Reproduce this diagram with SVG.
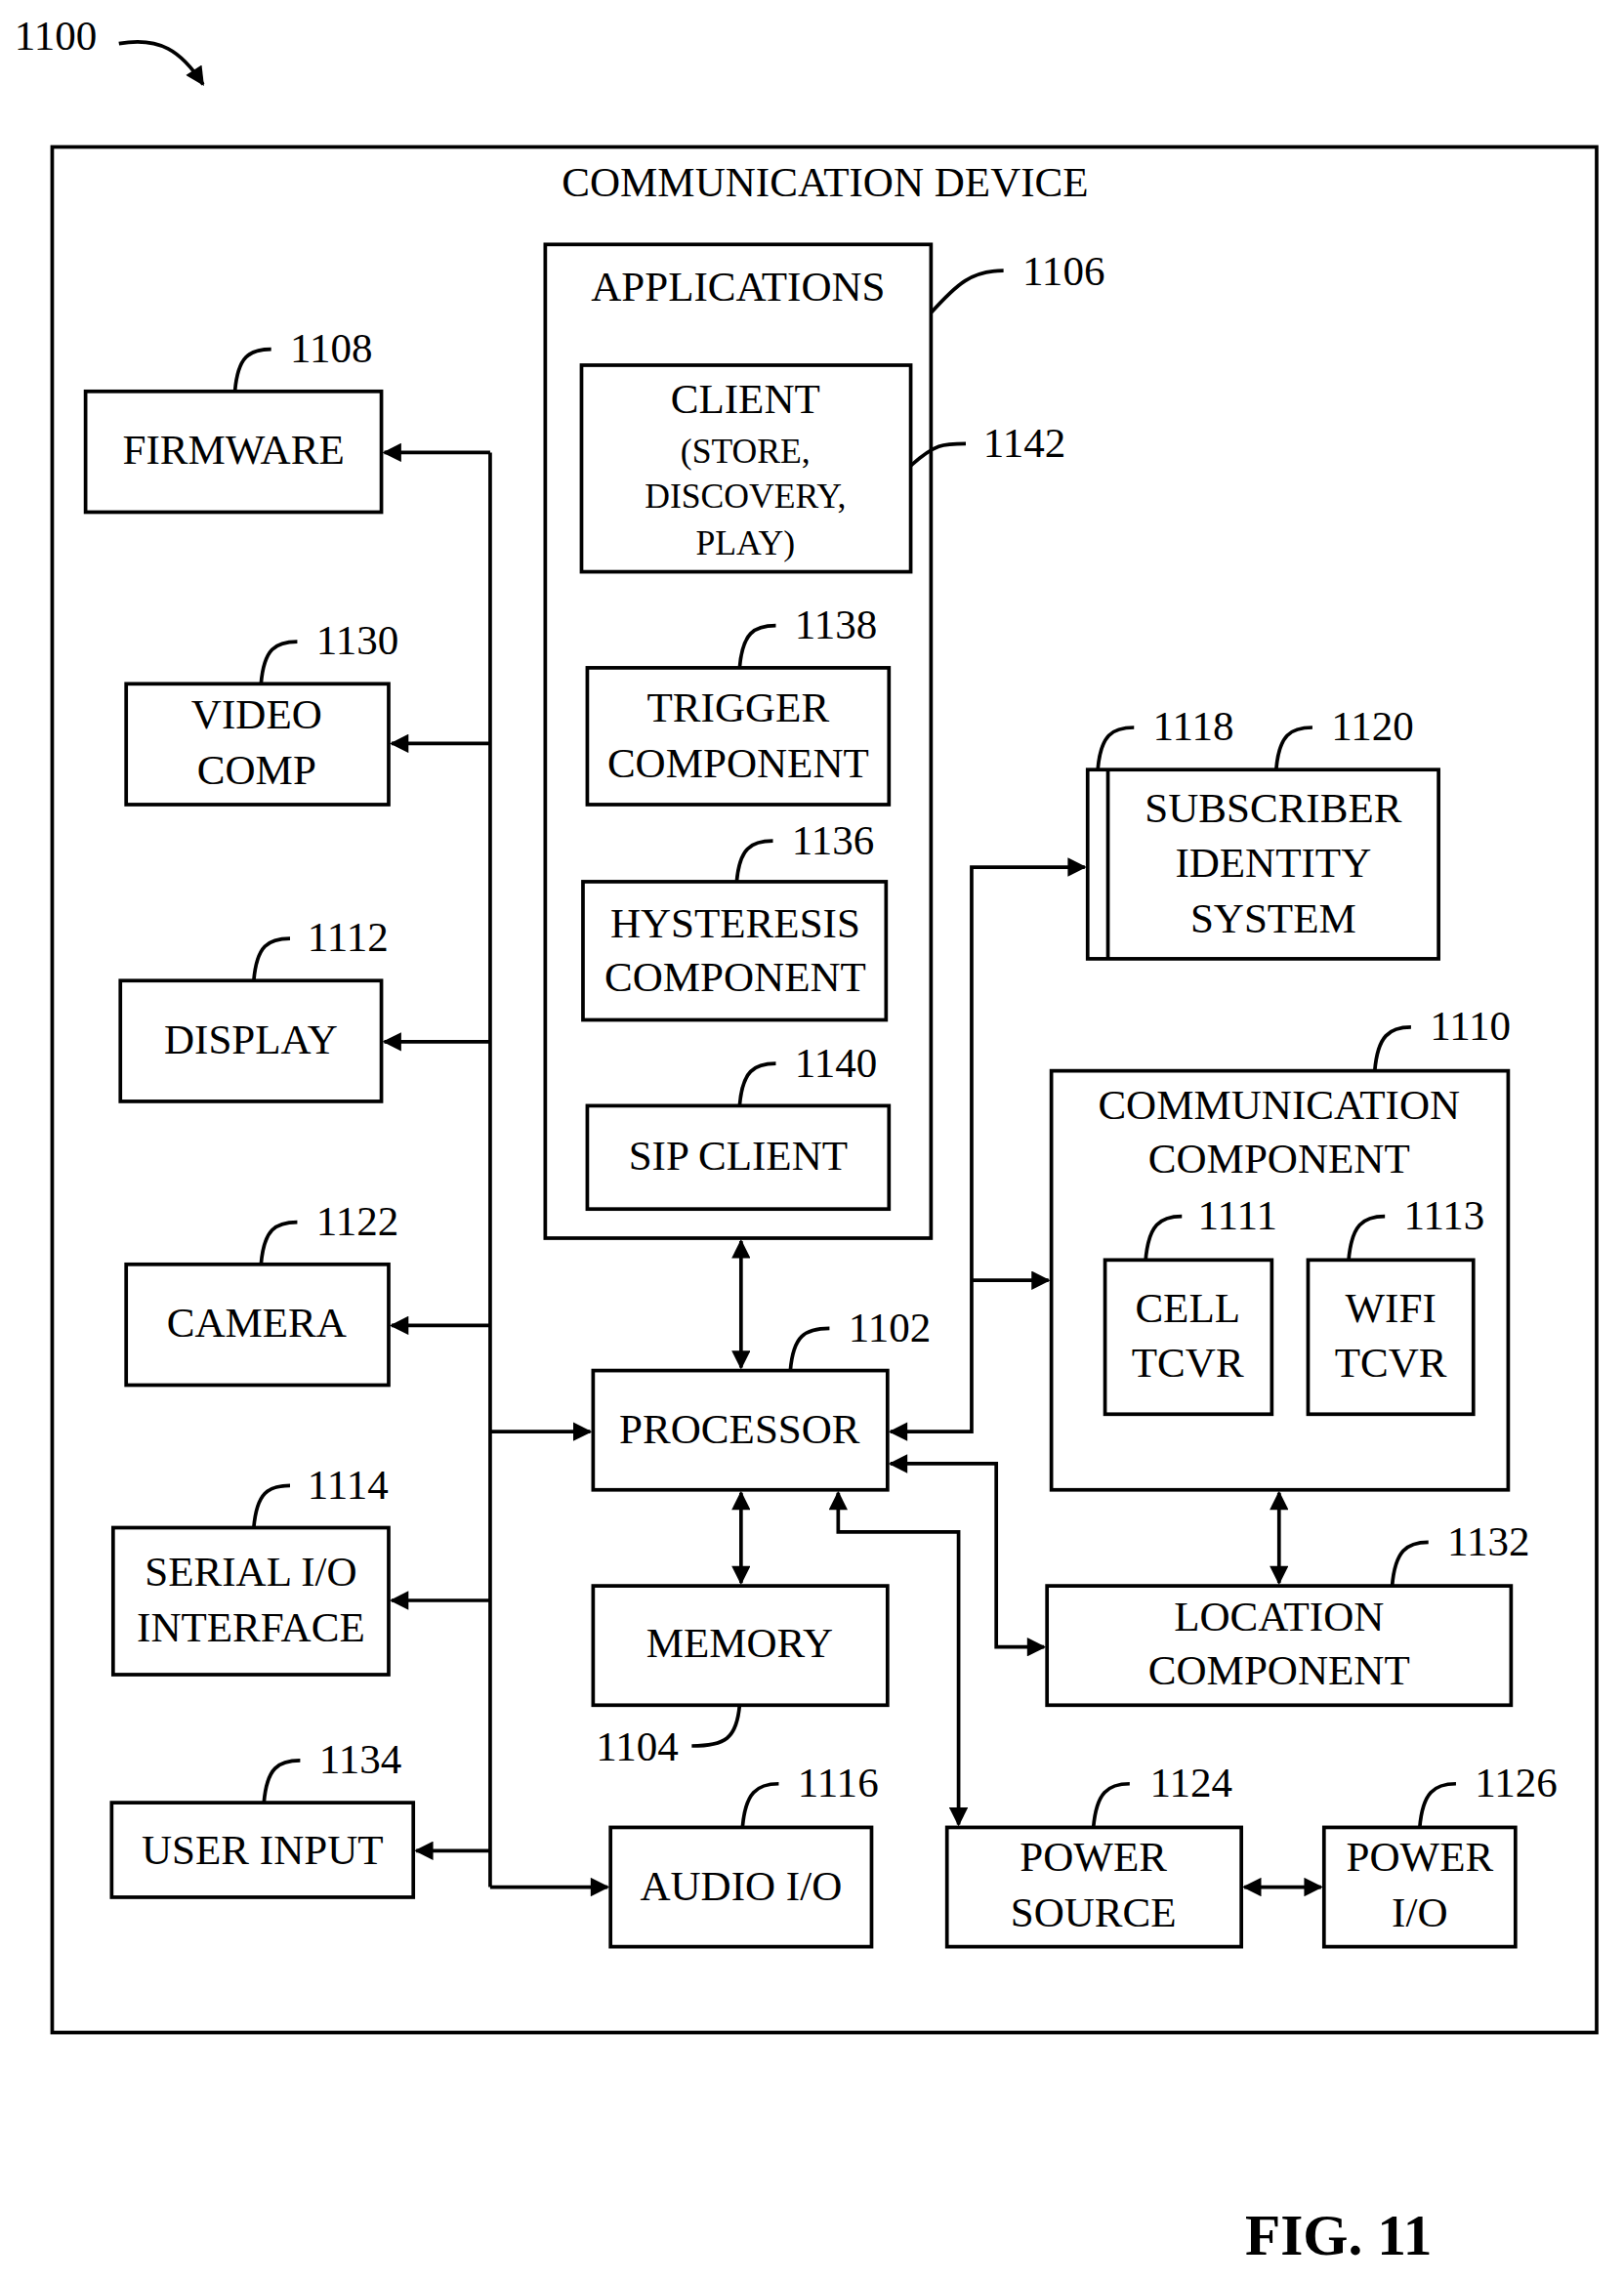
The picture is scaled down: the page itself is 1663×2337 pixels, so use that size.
<svg xmlns="http://www.w3.org/2000/svg" width="1663" height="2337" viewBox="0 0 1663 2337">
<style>
.b{fill:none;stroke:#000;stroke-width:2.5}
.c{fill:none;stroke:#000;stroke-width:2.5}
text{font-family:"Liberation Serif",serif;font-size:29px;text-anchor:middle;fill:#000}
.n{text-anchor:start}
.s{font-size:24px}
</style>
<defs><marker id="a" viewBox="0 0 10 10" refX="9" refY="5" markerWidth="16" markerHeight="13" markerUnits="userSpaceOnUse" orient="auto-start-reverse"><path d="M0,0L10,5L0,10z"/></marker></defs>
<rect width="1663" height="2337" fill="#fff"/>
<g transform="scale(1.485,1.49)">
<g id="labels">
<text class="n" x="10" y="34">1100</text>
<path class="c" d="M82,30 C110,25 125,35 140,58" marker-end="url(#a)"/>
<text x="923" y="1550" style="font-size:40px;font-weight:bold">FIG. 11</text>
</g>
<g id="device"><rect class="b" x="36" y="101" width="1065" height="1296"/><text x="569" y="135">COMMUNICATION DEVICE</text></g>
<g id="apps"><rect class="b" x="376" y="168" width="266" height="683"/><text x="509" y="207">APPLICATIONS</text><path class="c" d="M642,215 C660,195 670,186 692,186"/><text class="n" x="705" y="196">1106</text></g>
<g id="client"><rect class="b" x="401" y="251" width="227" height="142"/><text x="514" y="284">CLIENT</text><text class="s" x="514" y="318">(STORE,</text><text class="s" x="514" y="349">DISCOVERY,</text><text class="s" x="514" y="381">PLAY)</text><path class="c" d="M628,320 C645,305 650,305 666,305"/><text class="n" x="678" y="314">1142</text></g>
<g id="trigger"><rect class="b" x="405" y="459" width="208" height="94"/><text x="509" y="496">TRIGGER</text><text x="509" y="534">COMPONENT</text><path class="c" d="M510,459 C512,435 520,430 535,430"/><text class="n" x="548" y="439">1138</text></g>
<g id="hyst"><rect class="b" x="402" y="606" width="209" height="95"/><text x="507" y="644">HYSTERESIS</text><text x="507" y="681">COMPONENT</text><path class="c" d="M508,606 C510,583 518,578 533,578"/><text class="n" x="546" y="587">1136</text></g>
<g id="sip"><rect class="b" x="405" y="760" width="208" height="71"/><text x="509" y="804">SIP CLIENT</text><path class="c" d="M510,760 C512,736 520,731 535,731"/><text class="n" x="548" y="740">1140</text></g>
<g id="firmware"><rect class="b" x="59" y="269" width="204" height="83"/><text x="161" y="319">FIRMWARE</text><path class="c" d="M162,269 C164,245 172,240 187,240"/><text class="n" x="200" y="249">1108</text></g>
<g id="video"><rect class="b" x="87" y="470" width="181" height="83"/><text x="177" y="501">VIDEO</text><text x="177" y="539">COMP</text><path class="c" d="M180,470 C182,446 190,441 205,441"/><text class="n" x="218" y="450">1130</text></g>
<g id="display"><rect class="b" x="83" y="674" width="180" height="83"/><text x="173" y="724">DISPLAY</text><path class="c" d="M175,674 C177,650 185,645 200,645"/><text class="n" x="212" y="654">1112</text></g>
<g id="camera"><rect class="b" x="87" y="869" width="181" height="83"/><text x="177" y="919">CAMERA</text><path class="c" d="M180,869 C182,845 190,840 205,840"/><text class="n" x="218" y="849">1122</text></g>
<g id="serial"><rect class="b" x="78" y="1050" width="190" height="101"/><text x="173" y="1090">SERIAL I/O</text><text x="173" y="1128">INTERFACE</text><path class="c" d="M175,1050 C177,1026 185,1021 200,1021"/><text class="n" x="212" y="1030">1114</text></g>
<g id="userinput"><rect class="b" x="77" y="1239" width="208" height="65"/><text x="181" y="1281">USER INPUT</text><path class="c" d="M182,1239 C184,1215 192,1210 207,1210"/><text class="n" x="220" y="1219">1134</text></g>
<g id="processor"><rect class="b" x="409" y="942" width="203" height="82"/><text x="510" y="992">PROCESSOR</text><path class="c" d="M545,942 C547,918 555,913 572,913"/><text class="n" x="585" y="922">1102</text></g>
<g id="memory"><rect class="b" x="409" y="1090" width="203" height="82"/><text x="510" y="1139">MEMORY</text><path class="c" d="M510,1172 C508,1195 500,1200 477,1200"/><text class="n" x="411" y="1210">1104</text></g>
<g id="audio"><rect class="b" x="421" y="1256" width="180" height="82"/><text x="511" y="1306">AUDIO I/O</text><path class="c" d="M512,1256 C514,1232 522,1226 537,1226"/><text class="n" x="550" y="1235">1116</text></g>
<g id="sub"><rect class="b" x="750" y="529" width="242" height="130"/><line class="c" x1="764" y1="529" x2="764" y2="659"/><text x="878" y="565">SUBSCRIBER</text><text x="878" y="603">IDENTITY</text><text x="878" y="641">SYSTEM</text><path class="c" d="M757,529 C759,505 767,500 782,500"/><text class="n" x="795" y="509">1118</text><path class="c" d="M880,529 C882,505 890,500 905,500"/><text class="n" x="918" y="509">1120</text></g>
<g id="comm"><rect class="b" x="725" y="736" width="315" height="288"/><text x="882" y="769">COMMUNICATION</text><text x="882" y="806">COMPONENT</text><path class="c" d="M948,736 C950,712 958,706 973,706"/><text class="n" x="986" y="715">1110</text></g>
<g id="cell"><rect class="b" x="762" y="866" width="115" height="106"/><text x="819" y="909">CELL</text><text x="819" y="946">TCVR</text><path class="c" d="M790,866 C792,842 800,836 815,836"/><text class="n" x="826" y="845">1111</text></g>
<g id="wifi"><rect class="b" x="902" y="866" width="114" height="106"/><text x="959" y="909">WIFI</text><text x="959" y="946">TCVR</text><path class="c" d="M930,866 C932,842 940,836 955,836"/><text class="n" x="968" y="845">1113</text></g>
<g id="location"><rect class="b" x="722" y="1090" width="320" height="82"/><text x="882" y="1121">LOCATION</text><text x="882" y="1158">COMPONENT</text><path class="c" d="M960,1090 C962,1066 970,1060 985,1060"/><text class="n" x="998" y="1069">1132</text></g>
<g id="psource"><rect class="b" x="653" y="1256" width="203" height="82"/><text x="754" y="1286">POWER</text><text x="754" y="1324">SOURCE</text><path class="c" d="M754,1256 C756,1232 764,1226 779,1226"/><text class="n" x="793" y="1235">1124</text></g>
<g id="pio"><rect class="b" x="913" y="1256" width="132" height="82"/><text x="979" y="1286">POWER</text><text x="979" y="1324">I/O</text><path class="c" d="M979,1256 C981,1232 989,1226 1004,1226"/><text class="n" x="1017" y="1235">1126</text></g>
<g id="connectors">
<line class="c" x1="338" y1="311" x2="338" y2="1297"/>
<line class="c" x1="338" y1="311" x2="265" y2="311" marker-end="url(#a)"/>
<line class="c" x1="338" y1="511" x2="270" y2="511" marker-end="url(#a)"/>
<line class="c" x1="338" y1="716" x2="265" y2="716" marker-end="url(#a)"/>
<line class="c" x1="338" y1="911" x2="270" y2="911" marker-end="url(#a)"/>
<line class="c" x1="338" y1="1100" x2="270" y2="1100" marker-end="url(#a)"/>
<line class="c" x1="338" y1="1272" x2="287" y2="1272" marker-end="url(#a)"/>
<line class="c" x1="338" y1="984" x2="407" y2="984" marker-end="url(#a)"/>
<line class="c" x1="338" y1="1297" x2="419" y2="1297" marker-end="url(#a)"/>
<line class="c" x1="511" y1="853" x2="511" y2="940" marker-start="url(#a)" marker-end="url(#a)"/>
<line class="c" x1="511" y1="1026" x2="511" y2="1088" marker-start="url(#a)" marker-end="url(#a)"/>
<line class="c" x1="882" y1="1026" x2="882" y2="1088" marker-start="url(#a)" marker-end="url(#a)"/>
<line class="c" x1="858" y1="1297" x2="911" y2="1297" marker-start="url(#a)" marker-end="url(#a)"/>
<polyline class="c" points="614,984 670,984 670,596 748,596" marker-start="url(#a)" marker-end="url(#a)"/>
<line class="c" x1="670" y1="880" x2="723" y2="880" marker-end="url(#a)"/>
<polyline class="c" points="614,1006 687,1006 687,1132 720,1132" marker-start="url(#a)" marker-end="url(#a)"/>
<polyline class="c" points="578,1026 578,1053 661,1053 661,1254" marker-start="url(#a)" marker-end="url(#a)"/>
</g>
</g>
</svg>
